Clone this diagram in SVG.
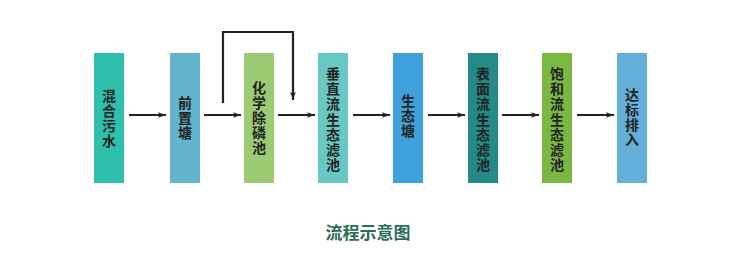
<svg xmlns="http://www.w3.org/2000/svg" width="746" height="263" viewBox="0 0 746 263">
<style>
.lbl{font-family:"Noto Sans CJK SC","Noto Sans",sans-serif;font-size:14px;font-weight:bold;fill:#222;text-anchor:middle}
.con{stroke:#222;stroke-width:2.2;fill:none}
.title{font-family:"Noto Sans CJK SC","Noto Sans",sans-serif;font-size:17px;font-weight:bold;fill:#2e6b57;text-anchor:middle}
</style>
<defs>
<marker id="ah" viewBox="0 0 10 10" refX="10" refY="5" markerWidth="10" markerHeight="8" markerUnits="userSpaceOnUse" orient="auto">
<path d="M0,1.5 L10,5 L0,8.5 L2,5 Z" fill="#222"/>
</marker>
</defs>
<rect width="746" height="263" fill="#fff"/>
<g id="n1"><rect x="94" y="53" width="30" height="130" fill="#2fbfad"/>
<text class="lbl" x="109" y="101"><tspan x="109">混</tspan><tspan x="109" dy="15">合</tspan><tspan x="109" dy="15">污</tspan><tspan x="109" dy="15">水</tspan></text></g>
<g id="n2"><rect x="170" y="53" width="30" height="130" fill="#62b5cb"/>
<text class="lbl" x="185" y="108"><tspan x="185">前</tspan><tspan x="185" dy="15">置</tspan><tspan x="185" dy="15">塘</tspan></text></g>
<g id="n3"><rect x="244" y="53" width="30" height="130" fill="#9ccb74"/>
<text class="lbl" x="259" y="93"><tspan x="259">化</tspan><tspan x="259" dy="15">学</tspan><tspan x="259" dy="15">除</tspan><tspan x="259" dy="15">磷</tspan><tspan x="259" dy="15">池</tspan></text></g>
<g id="n4"><rect x="318" y="53" width="30" height="130" fill="#68c9c3"/>
<text class="lbl" x="333" y="79"><tspan x="333">垂</tspan><tspan x="333" dy="15.2">直</tspan><tspan x="333" dy="15.2">流</tspan><tspan x="333" dy="15.2">生</tspan><tspan x="333" dy="15.2">态</tspan><tspan x="333" dy="15.2">滤</tspan><tspan x="333" dy="15.2">池</tspan></text></g>
<g id="n5"><rect x="393" y="53" width="30" height="130" fill="#3fa1db"/>
<text class="lbl" x="408" y="106"><tspan x="408">生</tspan><tspan x="408" dy="15">态</tspan><tspan x="408" dy="15">塘</tspan></text></g>
<g id="n6"><rect x="468" y="53" width="30" height="130" fill="#238a87"/>
<text class="lbl" x="483" y="79"><tspan x="483">表</tspan><tspan x="483" dy="15.2">面</tspan><tspan x="483" dy="15.2">流</tspan><tspan x="483" dy="15.2">生</tspan><tspan x="483" dy="15.2">态</tspan><tspan x="483" dy="15.2">滤</tspan><tspan x="483" dy="15.2">池</tspan></text></g>
<g id="n7"><rect x="542" y="53" width="30" height="130" fill="#7ab842"/>
<text class="lbl" x="557" y="79"><tspan x="557">饱</tspan><tspan x="557" dy="15.2">和</tspan><tspan x="557" dy="15.2">流</tspan><tspan x="557" dy="15.2">生</tspan><tspan x="557" dy="15.2">态</tspan><tspan x="557" dy="15.2">滤</tspan><tspan x="557" dy="15.2">池</tspan></text></g>
<g id="n8"><rect x="617" y="53" width="30" height="130" fill="#63b1d9"/>
<text class="lbl" x="632" y="100"><tspan x="632">达</tspan><tspan x="632" dy="15">标</tspan><tspan x="632" dy="15">排</tspan><tspan x="632" dy="15">入</tspan></text></g>
<g id="connectors">
<line class="con" x1="129" y1="115" x2="166" y2="115" marker-end="url(#ah)"/>
<line class="con" x1="204" y1="115" x2="241" y2="115" marker-end="url(#ah)"/>
<line class="con" x1="278" y1="115" x2="315" y2="115" marker-end="url(#ah)"/>
<line class="con" x1="353" y1="115" x2="390" y2="115" marker-end="url(#ah)"/>
<line class="con" x1="428" y1="115" x2="465" y2="115" marker-end="url(#ah)"/>
<line class="con" x1="502" y1="115" x2="539" y2="115" marker-end="url(#ah)"/>
<line class="con" x1="577" y1="115" x2="614" y2="115" marker-end="url(#ah)"/>
<path class="con" d="M223,103 V32 H293 V100" marker-end="url(#ah)"/>
</g>
<text class="title" x="368" y="239">流程示意图</text>
</svg>
